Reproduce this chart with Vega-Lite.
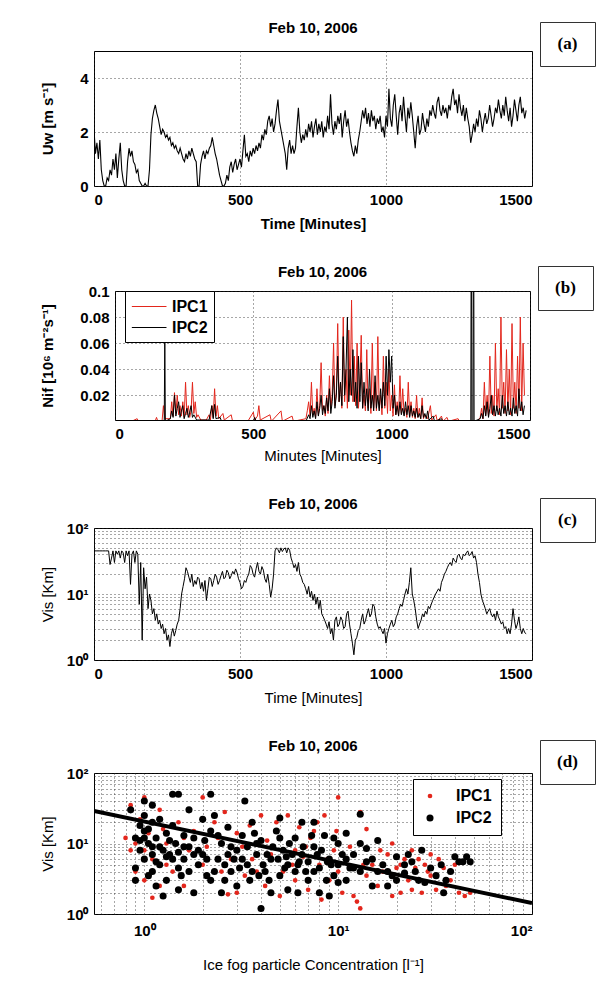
{
"$schema":"https://vega.github.io/schema/vega-lite/v6.json",
"background":"white",
"padding":{"left":32,"top":16,"right":15,"bottom":8},
"spacing":28,
"resolve":{"scale":{"color":"independent","size":"independent"},"legend":{"color":"independent","size":"independent"}},
"config":{
 "font":"Liberation Sans",
 "view":{"stroke":"black","strokeWidth":1},
 "axis":{"labelFont":"Liberation Sans","labelFontSize":15,"labelFontWeight":"bold","labelColor":"black","titleFont":"Liberation Sans","titleFontSize":15,"titleFontWeight":"bold","titleColor":"black","ticks":false,"domain":false,"grid":true,"gridColor":"#222","gridDash":[1,3],"gridWidth":0.8,"labelPadding":6,"labelOverlap":false},
 "legend":{"labelFont":"Liberation Sans","labelFontSize":16,"labelFontWeight":"bold","labelColor":"black","strokeColor":"black","fillColor":"white","padding":7,"title":null}
},
"datasets":{
"a":[{"t":0,"u":2.1},{"t":5,"u":1.2},{"t":10,"u":1.6},{"t":15,"u":1.0},{"t":20,"u":1.7},{"t":25,"u":0.6},{"t":30,"u":0.2},{"t":35,"u":0},{"t":40,"u":0},{"t":45,"u":0.3},{"t":50,"u":0.2},{"t":55,"u":0.6},{"t":60,"u":0.4},{"t":65,"u":1.0},{"t":70,"u":0.6},{"t":75,"u":1.2},{"t":80,"u":0.3},{"t":85,"u":1.0},{"t":90,"u":1.6},{"t":95,"u":0.6},{"t":100,"u":0.2},{"t":105,"u":0},{"t":110,"u":0},{"t":115,"u":0.9},{"t":120,"u":1.4},{"t":125,"u":1.1},{"t":130,"u":1.3},{"t":135,"u":0.9},{"t":140,"u":0.8},{"t":145,"u":0.5},{"t":150,"u":0.6},{"t":155,"u":0.2},{"t":160,"u":0.1},{"t":165,"u":0},{"t":170,"u":0},{"t":175,"u":0.1},{"t":180,"u":0},{"t":185,"u":0},{"t":190,"u":0.6},{"t":195,"u":1.9},{"t":200,"u":2.5},{"t":205,"u":2.8},{"t":210,"u":3.0},{"t":215,"u":2.7},{"t":220,"u":2.5},{"t":225,"u":2.2},{"t":230,"u":1.9},{"t":235,"u":2.1},{"t":240,"u":2.0},{"t":245,"u":1.8},{"t":250,"u":1.9},{"t":255,"u":1.7},{"t":260,"u":1.8},{"t":265,"u":1.5},{"t":270,"u":1.6},{"t":275,"u":1.4},{"t":280,"u":1.5},{"t":285,"u":1.3},{"t":290,"u":1.2},{"t":295,"u":1.4},{"t":300,"u":1.2},{"t":305,"u":1.0},{"t":310,"u":0.9},{"t":315,"u":1.2},{"t":320,"u":1.0},{"t":325,"u":1.3},{"t":330,"u":1.1},{"t":335,"u":1.4},{"t":340,"u":1.2},{"t":345,"u":1.0},{"t":350,"u":0.9},{"t":355,"u":0},{"t":360,"u":0},{"t":365,"u":0.8},{"t":370,"u":1.1},{"t":375,"u":1.3},{"t":380,"u":1.0},{"t":385,"u":1.3},{"t":390,"u":1.2},{"t":395,"u":1.4},{"t":400,"u":1.5},{"t":405,"u":1.8},{"t":410,"u":1.5},{"t":415,"u":1.2},{"t":420,"u":1.0},{"t":425,"u":0.7},{"t":430,"u":0.4},{"t":435,"u":0.2},{"t":440,"u":0},{"t":445,"u":0},{"t":450,"u":0.1},{"t":455,"u":0.4},{"t":460,"u":0.2},{"t":465,"u":0.7},{"t":470,"u":0.9},{"t":475,"u":0.5},{"t":480,"u":0.8},{"t":485,"u":1.0},{"t":490,"u":0.6},{"t":495,"u":0.8},{"t":500,"u":1.0},{"t":505,"u":0.7},{"t":510,"u":1.3},{"t":515,"u":1.9},{"t":520,"u":1.1},{"t":525,"u":1.2},{"t":530,"u":0.9},{"t":535,"u":1.3},{"t":540,"u":1.1},{"t":545,"u":1.4},{"t":550,"u":1.2},{"t":555,"u":1.5},{"t":560,"u":1.3},{"t":565,"u":1.6},{"t":570,"u":1.4},{"t":575,"u":1.9},{"t":580,"u":1.7},{"t":585,"u":2.1},{"t":590,"u":1.9},{"t":595,"u":2.4},{"t":600,"u":2.6},{"t":605,"u":2.2},{"t":610,"u":2.5},{"t":615,"u":2.0},{"t":620,"u":2.3},{"t":625,"u":2.8},{"t":630,"u":3.2},{"t":635,"u":2.4},{"t":640,"u":2.1},{"t":645,"u":1.8},{"t":650,"u":1.5},{"t":655,"u":1.2},{"t":660,"u":0.6},{"t":665,"u":1.4},{"t":670,"u":1.7},{"t":675,"u":1.2},{"t":680,"u":1.5},{"t":685,"u":1.2},{"t":690,"u":1.4},{"t":695,"u":2.2},{"t":700,"u":2.9},{"t":705,"u":2.0},{"t":710,"u":1.6},{"t":715,"u":1.9},{"t":720,"u":1.7},{"t":725,"u":2.1},{"t":730,"u":1.8},{"t":735,"u":2.3},{"t":740,"u":2.0},{"t":745,"u":2.4},{"t":750,"u":1.8},{"t":755,"u":2.2},{"t":760,"u":2.5},{"t":765,"u":1.9},{"t":770,"u":2.3},{"t":775,"u":2.0},{"t":780,"u":2.4},{"t":785,"u":1.8},{"t":790,"u":2.2},{"t":795,"u":2.0},{"t":800,"u":2.6},{"t":805,"u":2.1},{"t":810,"u":3.4},{"t":815,"u":2.3},{"t":820,"u":1.9},{"t":825,"u":2.4},{"t":830,"u":2.1},{"t":835,"u":2.6},{"t":840,"u":2.3},{"t":845,"u":2.7},{"t":850,"u":1.8},{"t":855,"u":2.4},{"t":860,"u":2.8},{"t":865,"u":2.2},{"t":870,"u":2.5},{"t":875,"u":2.0},{"t":880,"u":1.6},{"t":885,"u":1.3},{"t":890,"u":1.1},{"t":895,"u":1.5},{"t":900,"u":1.2},{"t":905,"u":1.7},{"t":910,"u":2.0},{"t":915,"u":2.4},{"t":920,"u":2.8},{"t":925,"u":2.5},{"t":930,"u":2.9},{"t":935,"u":2.3},{"t":940,"u":2.7},{"t":945,"u":2.2},{"t":950,"u":2.8},{"t":955,"u":2.4},{"t":960,"u":2.6},{"t":965,"u":2.1},{"t":970,"u":2.5},{"t":975,"u":2.3},{"t":980,"u":2.6},{"t":985,"u":2.0},{"t":990,"u":2.2},{"t":995,"u":1.8},{"t":1000,"u":2.6},{"t":1005,"u":2.2},{"t":1010,"u":3.6},{"t":1015,"u":2.5},{"t":1020,"u":2.2},{"t":1025,"u":3.0},{"t":1030,"u":3.4},{"t":1035,"u":2.6},{"t":1040,"u":1.9},{"t":1045,"u":2.7},{"t":1050,"u":3.0},{"t":1055,"u":2.4},{"t":1060,"u":3.3},{"t":1065,"u":2.6},{"t":1070,"u":2.0},{"t":1075,"u":2.9},{"t":1080,"u":2.5},{"t":1085,"u":3.1},{"t":1090,"u":2.6},{"t":1095,"u":2.0},{"t":1100,"u":1.4},{"t":1105,"u":2.2},{"t":1110,"u":2.6},{"t":1115,"u":1.9},{"t":1120,"u":2.1},{"t":1125,"u":2.7},{"t":1130,"u":2.3},{"t":1135,"u":2.0},{"t":1140,"u":2.5},{"t":1145,"u":2.2},{"t":1150,"u":2.8},{"t":1155,"u":2.6},{"t":1160,"u":3.0},{"t":1165,"u":2.7},{"t":1170,"u":2.5},{"t":1175,"u":3.1},{"t":1180,"u":3.3},{"t":1185,"u":2.8},{"t":1190,"u":2.6},{"t":1195,"u":3.0},{"t":1200,"u":2.7},{"t":1205,"u":2.9},{"t":1210,"u":2.5},{"t":1215,"u":3.0},{"t":1220,"u":2.8},{"t":1225,"u":3.3},{"t":1230,"u":3.6},{"t":1235,"u":3.0},{"t":1240,"u":3.2},{"t":1245,"u":2.7},{"t":1250,"u":3.4},{"t":1255,"u":2.9},{"t":1260,"u":2.6},{"t":1265,"u":3.0},{"t":1270,"u":2.4},{"t":1275,"u":2.9},{"t":1280,"u":2.5},{"t":1285,"u":2.2},{"t":1290,"u":1.6},{"t":1295,"u":1.9},{"t":1300,"u":2.3},{"t":1305,"u":2.0},{"t":1310,"u":2.5},{"t":1315,"u":2.2},{"t":1320,"u":2.8},{"t":1325,"u":2.5},{"t":1330,"u":2.0},{"t":1335,"u":2.4},{"t":1340,"u":2.7},{"t":1345,"u":2.3},{"t":1350,"u":2.5},{"t":1355,"u":3.0},{"t":1360,"u":2.6},{"t":1365,"u":2.2},{"t":1370,"u":2.5},{"t":1375,"u":2.9},{"t":1380,"u":2.7},{"t":1385,"u":3.2},{"t":1390,"u":2.8},{"t":1395,"u":2.5},{"t":1400,"u":3.0},{"t":1405,"u":2.6},{"t":1410,"u":3.3},{"t":1415,"u":2.8},{"t":1420,"u":2.4},{"t":1425,"u":2.9},{"t":1430,"u":2.2},{"t":1435,"u":2.6},{"t":1440,"u":3.2},{"t":1445,"u":2.8},{"t":1450,"u":2.4},{"t":1455,"u":3.0},{"t":1460,"u":3.3},{"t":1465,"u":2.7},{"t":1470,"u":2.9},{"t":1475,"u":2.5},{"t":1480,"u":2.8}],
"b":[{"s":"IPC1","t":0,"n":0},{"s":"IPC1","t":60,"n":0},{"s":"IPC1","t":80,"n":0.002},{"s":"IPC1","t":85,"n":0},{"s":"IPC1","t":145,"n":0},{"s":"IPC1","t":150,"n":0.003},{"s":"IPC1","t":155,"n":0},{"s":"IPC1","t":170,"n":0},{"s":"IPC1","t":175,"n":0.012},{"s":"IPC1","t":180,"n":0.002},{"s":"IPC1","t":200,"n":0.002},{"s":"IPC1","t":205,"n":0.015},{"s":"IPC1","t":210,"n":0.004},{"s":"IPC1","t":215,"n":0.022},{"s":"IPC1","t":220,"n":0.006},{"s":"IPC1","t":225,"n":0.02},{"s":"IPC1","t":230,"n":0.005},{"s":"IPC1","t":235,"n":0.012},{"s":"IPC1","t":240,"n":0.004},{"s":"IPC1","t":245,"n":0.015},{"s":"IPC1","t":250,"n":0.003},{"s":"IPC1","t":255,"n":0.03},{"s":"IPC1","t":260,"n":0.005},{"s":"IPC1","t":265,"n":0.012},{"s":"IPC1","t":270,"n":0.003},{"s":"IPC1","t":275,"n":0.008},{"s":"IPC1","t":280,"n":0.03},{"s":"IPC1","t":285,"n":0.006},{"s":"IPC1","t":290,"n":0.015},{"s":"IPC1","t":295,"n":0.003},{"s":"IPC1","t":300,"n":0.005},{"s":"IPC1","t":310,"n":0.001},{"s":"IPC1","t":330,"n":0.001},{"s":"IPC1","t":340,"n":0.005},{"s":"IPC1","t":345,"n":0.001},{"s":"IPC1","t":350,"n":0.012},{"s":"IPC1","t":355,"n":0.003},{"s":"IPC1","t":360,"n":0.025},{"s":"IPC1","t":365,"n":0.004},{"s":"IPC1","t":370,"n":0.012},{"s":"IPC1","t":375,"n":0.002},{"s":"IPC1","t":390,"n":0.006},{"s":"IPC1","t":395,"n":0.001},{"s":"IPC1","t":420,"n":0.005},{"s":"IPC1","t":425,"n":0},{"s":"IPC1","t":480,"n":0},{"s":"IPC1","t":500,"n":0.007},{"s":"IPC1","t":505,"n":0.001},{"s":"IPC1","t":515,"n":0.004},{"s":"IPC1","t":520,"n":0.012},{"s":"IPC1","t":525,"n":0.001},{"s":"IPC1","t":560,"n":0.005},{"s":"IPC1","t":565,"n":0},{"s":"IPC1","t":600,"n":0.008},{"s":"IPC1","t":605,"n":0},{"s":"IPC1","t":640,"n":0.004},{"s":"IPC1","t":645,"n":0},{"s":"IPC1","t":690,"n":0.002},{"s":"IPC1","t":695,"n":0.008},{"s":"IPC1","t":700,"n":0.015},{"s":"IPC1","t":705,"n":0.004},{"s":"IPC1","t":710,"n":0.03},{"s":"IPC1","t":715,"n":0.005},{"s":"IPC1","t":720,"n":0.01},{"s":"IPC1","t":725,"n":0.003},{"s":"IPC1","t":730,"n":0.025},{"s":"IPC1","t":735,"n":0.005},{"s":"IPC1","t":740,"n":0.012},{"s":"IPC1","t":745,"n":0.045},{"s":"IPC1","t":750,"n":0.008},{"s":"IPC1","t":755,"n":0.012},{"s":"IPC1","t":760,"n":0.004},{"s":"IPC1","t":765,"n":0.02},{"s":"IPC1","t":770,"n":0.006},{"s":"IPC1","t":775,"n":0.035},{"s":"IPC1","t":780,"n":0.01},{"s":"IPC1","t":785,"n":0.02},{"s":"IPC1","t":790,"n":0.06},{"s":"IPC1","t":795,"n":0.012},{"s":"IPC1","t":800,"n":0.022},{"s":"IPC1","t":805,"n":0.075},{"s":"IPC1","t":810,"n":0.015},{"s":"IPC1","t":815,"n":0.03},{"s":"IPC1","t":820,"n":0.01},{"s":"IPC1","t":825,"n":0.08},{"s":"IPC1","t":830,"n":0.015},{"s":"IPC1","t":835,"n":0.04},{"s":"IPC1","t":840,"n":0.01},{"s":"IPC1","t":845,"n":0.07},{"s":"IPC1","t":850,"n":0.02},{"s":"IPC1","t":855,"n":0.093},{"s":"IPC1","t":860,"n":0.015},{"s":"IPC1","t":865,"n":0.05},{"s":"IPC1","t":870,"n":0.012},{"s":"IPC1","t":875,"n":0.06},{"s":"IPC1","t":880,"n":0.01},{"s":"IPC1","t":885,"n":0.03},{"s":"IPC1","t":890,"n":0.066},{"s":"IPC1","t":895,"n":0.01},{"s":"IPC1","t":900,"n":0.02},{"s":"IPC1","t":905,"n":0.008},{"s":"IPC1","t":910,"n":0.055},{"s":"IPC1","t":915,"n":0.01},{"s":"IPC1","t":920,"n":0.025},{"s":"IPC1","t":925,"n":0.006},{"s":"IPC1","t":930,"n":0.06},{"s":"IPC1","t":935,"n":0.01},{"s":"IPC1","t":940,"n":0.03},{"s":"IPC1","t":945,"n":0.008},{"s":"IPC1","t":950,"n":0.065},{"s":"IPC1","t":955,"n":0.01},{"s":"IPC1","t":960,"n":0.02},{"s":"IPC1","t":965,"n":0.005},{"s":"IPC1","t":970,"n":0.05},{"s":"IPC1","t":975,"n":0.01},{"s":"IPC1","t":980,"n":0.03},{"s":"IPC1","t":985,"n":0.006},{"s":"IPC1","t":990,"n":0.04},{"s":"IPC1","t":995,"n":0.008},{"s":"IPC1","t":1000,"n":0.02},{"s":"IPC1","t":1005,"n":0.004},{"s":"IPC1","t":1010,"n":0.028},{"s":"IPC1","t":1015,"n":0.005},{"s":"IPC1","t":1020,"n":0.015},{"s":"IPC1","t":1025,"n":0.004},{"s":"IPC1","t":1030,"n":0.035},{"s":"IPC1","t":1035,"n":0.006},{"s":"IPC1","t":1040,"n":0.025},{"s":"IPC1","t":1045,"n":0.005},{"s":"IPC1","t":1050,"n":0.01},{"s":"IPC1","t":1055,"n":0.003},{"s":"IPC1","t":1060,"n":0.03},{"s":"IPC1","t":1065,"n":0.004},{"s":"IPC1","t":1070,"n":0.015},{"s":"IPC1","t":1075,"n":0.003},{"s":"IPC1","t":1080,"n":0.01},{"s":"IPC1","t":1085,"n":0.002},{"s":"IPC1","t":1090,"n":0.02},{"s":"IPC1","t":1095,"n":0.003},{"s":"IPC1","t":1100,"n":0.01},{"s":"IPC1","t":1105,"n":0.002},{"s":"IPC1","t":1110,"n":0.018},{"s":"IPC1","t":1115,"n":0.002},{"s":"IPC1","t":1120,"n":0.005},{"s":"IPC1","t":1130,"n":0.002},{"s":"IPC1","t":1140,"n":0.012},{"s":"IPC1","t":1145,"n":0.001},{"s":"IPC1","t":1160,"n":0.005},{"s":"IPC1","t":1165,"n":0},{"s":"IPC1","t":1180,"n":0.004},{"s":"IPC1","t":1185,"n":0},{"s":"IPC1","t":1200,"n":0.003},{"s":"IPC1","t":1205,"n":0},{"s":"IPC1","t":1240,"n":0.002},{"s":"IPC1","t":1245,"n":0},{"s":"IPC1","t":1310,"n":0},{"s":"IPC1","t":1320,"n":0.003},{"s":"IPC1","t":1325,"n":0.01},{"s":"IPC1","t":1330,"n":0.002},{"s":"IPC1","t":1335,"n":0.03},{"s":"IPC1","t":1340,"n":0.005},{"s":"IPC1","t":1345,"n":0.02},{"s":"IPC1","t":1350,"n":0.004},{"s":"IPC1","t":1355,"n":0.05},{"s":"IPC1","t":1360,"n":0.006},{"s":"IPC1","t":1365,"n":0.02},{"s":"IPC1","t":1370,"n":0.004},{"s":"IPC1","t":1375,"n":0.06},{"s":"IPC1","t":1380,"n":0.008},{"s":"IPC1","t":1385,"n":0.025},{"s":"IPC1","t":1390,"n":0.005},{"s":"IPC1","t":1395,"n":0.08},{"s":"IPC1","t":1400,"n":0.01},{"s":"IPC1","t":1405,"n":0.03},{"s":"IPC1","t":1410,"n":0.006},{"s":"IPC1","t":1415,"n":0.055},{"s":"IPC1","t":1420,"n":0.008},{"s":"IPC1","t":1425,"n":0.04},{"s":"IPC1","t":1430,"n":0.005},{"s":"IPC1","t":1435,"n":0.075},{"s":"IPC1","t":1440,"n":0.01},{"s":"IPC1","t":1445,"n":0.03},{"s":"IPC1","t":1450,"n":0.006},{"s":"IPC1","t":1455,"n":0.05},{"s":"IPC1","t":1460,"n":0.01},{"s":"IPC1","t":1465,"n":0.08},{"s":"IPC1","t":1470,"n":0.008},{"s":"IPC1","t":1475,"n":0.06},{"s":"IPC1","t":1480,"n":0.02},
{"s":"IPC2","t":0,"n":0},{"s":"IPC2","t":170,"n":0},{"s":"IPC2","t":178,"n":0},{"s":"IPC2","t":180,"n":0.065},{"s":"IPC2","t":182,"n":0},{"s":"IPC2","t":200,"n":0.002},{"s":"IPC2","t":205,"n":0.008},{"s":"IPC2","t":210,"n":0.003},{"s":"IPC2","t":215,"n":0.02},{"s":"IPC2","t":220,"n":0.004},{"s":"IPC2","t":225,"n":0.01},{"s":"IPC2","t":230,"n":0.015},{"s":"IPC2","t":235,"n":0.003},{"s":"IPC2","t":240,"n":0.008},{"s":"IPC2","t":245,"n":0.012},{"s":"IPC2","t":250,"n":0.002},{"s":"IPC2","t":255,"n":0.006},{"s":"IPC2","t":260,"n":0.01},{"s":"IPC2","t":265,"n":0.003},{"s":"IPC2","t":270,"n":0.007},{"s":"IPC2","t":275,"n":0.012},{"s":"IPC2","t":280,"n":0.003},{"s":"IPC2","t":285,"n":0.005},{"s":"IPC2","t":295,"n":0.001},{"s":"IPC2","t":340,"n":0.001},{"s":"IPC2","t":350,"n":0.012},{"s":"IPC2","t":355,"n":0.002},{"s":"IPC2","t":360,"n":0.013},{"s":"IPC2","t":365,"n":0.002},{"s":"IPC2","t":380,"n":0.003},{"s":"IPC2","t":385,"n":0},{"s":"IPC2","t":500,"n":0},{"s":"IPC2","t":505,"n":0.003},{"s":"IPC2","t":510,"n":0},{"s":"IPC2","t":690,"n":0},{"s":"IPC2","t":700,"n":0.005},{"s":"IPC2","t":705,"n":0.002},{"s":"IPC2","t":710,"n":0.012},{"s":"IPC2","t":715,"n":0.003},{"s":"IPC2","t":720,"n":0.008},{"s":"IPC2","t":725,"n":0.002},{"s":"IPC2","t":730,"n":0.015},{"s":"IPC2","t":735,"n":0.004},{"s":"IPC2","t":740,"n":0.01},{"s":"IPC2","t":745,"n":0.02},{"s":"IPC2","t":750,"n":0.005},{"s":"IPC2","t":755,"n":0.012},{"s":"IPC2","t":760,"n":0.006},{"s":"IPC2","t":765,"n":0.018},{"s":"IPC2","t":770,"n":0.008},{"s":"IPC2","t":775,"n":0.025},{"s":"IPC2","t":780,"n":0.006},{"s":"IPC2","t":785,"n":0.015},{"s":"IPC2","t":790,"n":0.035},{"s":"IPC2","t":795,"n":0.01},{"s":"IPC2","t":800,"n":0.02},{"s":"IPC2","t":805,"n":0.05},{"s":"IPC2","t":810,"n":0.015},{"s":"IPC2","t":815,"n":0.03},{"s":"IPC2","t":820,"n":0.012},{"s":"IPC2","t":825,"n":0.065},{"s":"IPC2","t":830,"n":0.02},{"s":"IPC2","t":835,"n":0.04},{"s":"IPC2","t":840,"n":0.08},{"s":"IPC2","t":845,"n":0.015},{"s":"IPC2","t":850,"n":0.04},{"s":"IPC2","t":855,"n":0.02},{"s":"IPC2","t":860,"n":0.055},{"s":"IPC2","t":865,"n":0.015},{"s":"IPC2","t":870,"n":0.03},{"s":"IPC2","t":875,"n":0.01},{"s":"IPC2","t":880,"n":0.05},{"s":"IPC2","t":885,"n":0.015},{"s":"IPC2","t":890,"n":0.045},{"s":"IPC2","t":895,"n":0.01},{"s":"IPC2","t":900,"n":0.03},{"s":"IPC2","t":905,"n":0.012},{"s":"IPC2","t":910,"n":0.025},{"s":"IPC2","t":915,"n":0.008},{"s":"IPC2","t":920,"n":0.04},{"s":"IPC2","t":925,"n":0.01},{"s":"IPC2","t":930,"n":0.02},{"s":"IPC2","t":935,"n":0.008},{"s":"IPC2","t":940,"n":0.035},{"s":"IPC2","t":945,"n":0.01},{"s":"IPC2","t":950,"n":0.02},{"s":"IPC2","t":955,"n":0.008},{"s":"IPC2","t":960,"n":0.025},{"s":"IPC2","t":965,"n":0.01},{"s":"IPC2","t":970,"n":0.03},{"s":"IPC2","t":975,"n":0.012},{"s":"IPC2","t":980,"n":0.05},{"s":"IPC2","t":985,"n":0.02},{"s":"IPC2","t":990,"n":0.055},{"s":"IPC2","t":995,"n":0.03},{"s":"IPC2","t":1000,"n":0.05},{"s":"IPC2","t":1005,"n":0.01},{"s":"IPC2","t":1010,"n":0.02},{"s":"IPC2","t":1015,"n":0.005},{"s":"IPC2","t":1020,"n":0.012},{"s":"IPC2","t":1025,"n":0.004},{"s":"IPC2","t":1030,"n":0.015},{"s":"IPC2","t":1035,"n":0.005},{"s":"IPC2","t":1040,"n":0.01},{"s":"IPC2","t":1045,"n":0.004},{"s":"IPC2","t":1050,"n":0.015},{"s":"IPC2","t":1055,"n":0.005},{"s":"IPC2","t":1060,"n":0.012},{"s":"IPC2","t":1065,"n":0.003},{"s":"IPC2","t":1070,"n":0.012},{"s":"IPC2","t":1075,"n":0.004},{"s":"IPC2","t":1080,"n":0.008},{"s":"IPC2","t":1085,"n":0.003},{"s":"IPC2","t":1090,"n":0.01},{"s":"IPC2","t":1095,"n":0.003},{"s":"IPC2","t":1100,"n":0.006},{"s":"IPC2","t":1105,"n":0.002},{"s":"IPC2","t":1110,"n":0.012},{"s":"IPC2","t":1115,"n":0.003},{"s":"IPC2","t":1120,"n":0.006},{"s":"IPC2","t":1125,"n":0.002},{"s":"IPC2","t":1130,"n":0.008},{"s":"IPC2","t":1135,"n":0.001},{"s":"IPC2","t":1150,"n":0.004},{"s":"IPC2","t":1155,"n":0},{"s":"IPC2","t":1180,"n":0.002},{"s":"IPC2","t":1185,"n":0},{"s":"IPC2","t":1286,"n":0},{"s":"IPC2","t":1288,"n":0.2},{"s":"IPC2","t":1290,"n":0},{"s":"IPC2","t":1294,"n":0},{"s":"IPC2","t":1296,"n":0.2},{"s":"IPC2","t":1298,"n":0},{"s":"IPC2","t":1320,"n":0.002},{"s":"IPC2","t":1325,"n":0.006},{"s":"IPC2","t":1330,"n":0.002},{"s":"IPC2","t":1335,"n":0.012},{"s":"IPC2","t":1340,"n":0.004},{"s":"IPC2","t":1345,"n":0.015},{"s":"IPC2","t":1350,"n":0.003},{"s":"IPC2","t":1355,"n":0.01},{"s":"IPC2","t":1360,"n":0.02},{"s":"IPC2","t":1365,"n":0.005},{"s":"IPC2","t":1370,"n":0.012},{"s":"IPC2","t":1375,"n":0.004},{"s":"IPC2","t":1380,"n":0.012},{"s":"IPC2","t":1385,"n":0.005},{"s":"IPC2","t":1390,"n":0.01},{"s":"IPC2","t":1395,"n":0.004},{"s":"IPC2","t":1400,"n":0.02},{"s":"IPC2","t":1405,"n":0.006},{"s":"IPC2","t":1410,"n":0.012},{"s":"IPC2","t":1415,"n":0.004},{"s":"IPC2","t":1420,"n":0.015},{"s":"IPC2","t":1425,"n":0.005},{"s":"IPC2","t":1430,"n":0.01},{"s":"IPC2","t":1435,"n":0.004},{"s":"IPC2","t":1440,"n":0.018},{"s":"IPC2","t":1445,"n":0.006},{"s":"IPC2","t":1450,"n":0.012},{"s":"IPC2","t":1455,"n":0.004},{"s":"IPC2","t":1460,"n":0.025},{"s":"IPC2","t":1465,"n":0.008},{"s":"IPC2","t":1470,"n":0.015},{"s":"IPC2","t":1475,"n":0.005},{"s":"IPC2","t":1480,"n":0.012}],
"c":[{"t":0,"v":45},{"t":10,"v":45},{"t":20,"v":45},{"t":30,"v":45},{"t":40,"v":45},{"t":50,"v":45},{"t":55,"v":28},{"t":60,"v":35},{"t":65,"v":45},{"t":70,"v":30},{"t":75,"v":45},{"t":80,"v":40},{"t":85,"v":45},{"t":90,"v":35},{"t":95,"v":45},{"t":100,"v":42},{"t":105,"v":30},{"t":110,"v":45},{"t":115,"v":38},{"t":120,"v":45},{"t":125,"v":14},{"t":130,"v":40},{"t":135,"v":45},{"t":140,"v":30},{"t":145,"v":45},{"t":150,"v":40},{"t":155,"v":7},{"t":160,"v":30},{"t":165,"v":2},{"t":170,"v":25},{"t":175,"v":12},{"t":180,"v":18},{"t":185,"v":6},{"t":190,"v":10},{"t":195,"v":8},{"t":200,"v":5},{"t":205,"v":6},{"t":210,"v":4},{"t":215,"v":5},{"t":220,"v":3.5},{"t":225,"v":4},{"t":230,"v":3},{"t":235,"v":3.5},{"t":240,"v":2.5},{"t":245,"v":3},{"t":250,"v":2},{"t":255,"v":2.4},{"t":260,"v":1.6},{"t":265,"v":2.5},{"t":270,"v":3},{"t":275,"v":2.3},{"t":280,"v":2.8},{"t":285,"v":3.5},{"t":290,"v":4},{"t":295,"v":6},{"t":300,"v":10},{"t":305,"v":13},{"t":310,"v":17},{"t":315,"v":25},{"t":320,"v":22},{"t":325,"v":18},{"t":330,"v":15},{"t":335,"v":20},{"t":340,"v":13},{"t":345,"v":16},{"t":350,"v":14},{"t":355,"v":18},{"t":360,"v":17},{"t":365,"v":12},{"t":370,"v":15},{"t":375,"v":11},{"t":380,"v":16},{"t":385,"v":8},{"t":390,"v":12},{"t":395,"v":18},{"t":400,"v":17},{"t":405,"v":13},{"t":410,"v":16},{"t":415,"v":20},{"t":420,"v":18},{"t":425,"v":14},{"t":430,"v":16},{"t":435,"v":19},{"t":440,"v":22},{"t":445,"v":17},{"t":450,"v":18},{"t":455,"v":23},{"t":460,"v":21},{"t":465,"v":17},{"t":470,"v":19},{"t":475,"v":22},{"t":480,"v":20},{"t":485,"v":24},{"t":490,"v":21},{"t":495,"v":17},{"t":500,"v":15},{"t":505,"v":12},{"t":510,"v":13},{"t":515,"v":16},{"t":520,"v":15},{"t":525,"v":18},{"t":530,"v":20},{"t":535,"v":27},{"t":540,"v":25},{"t":545,"v":20},{"t":550,"v":18},{"t":555,"v":24},{"t":560,"v":30},{"t":565,"v":22},{"t":570,"v":20},{"t":575,"v":26},{"t":580,"v":23},{"t":585,"v":17},{"t":590,"v":15},{"t":595,"v":20},{"t":600,"v":14},{"t":605,"v":9},{"t":610,"v":12},{"t":615,"v":20},{"t":620,"v":45},{"t":625,"v":50},{"t":630,"v":47},{"t":635,"v":42},{"t":640,"v":50},{"t":645,"v":44},{"t":650,"v":48},{"t":655,"v":50},{"t":660,"v":42},{"t":665,"v":50},{"t":670,"v":46},{"t":675,"v":35},{"t":680,"v":30},{"t":685,"v":25},{"t":690,"v":28},{"t":695,"v":22},{"t":700,"v":30},{"t":705,"v":20},{"t":710,"v":18},{"t":715,"v":15},{"t":720,"v":14},{"t":725,"v":12},{"t":730,"v":10},{"t":735,"v":13},{"t":740,"v":9},{"t":745,"v":11},{"t":750,"v":8},{"t":755,"v":10},{"t":760,"v":7},{"t":765,"v":9},{"t":770,"v":6},{"t":775,"v":8},{"t":780,"v":5},{"t":785,"v":4.5},{"t":790,"v":4},{"t":795,"v":3.5},{"t":800,"v":3},{"t":805,"v":3.8},{"t":810,"v":2.5},{"t":815,"v":3},{"t":820,"v":2},{"t":825,"v":4},{"t":830,"v":4.5},{"t":835,"v":3.2},{"t":840,"v":3.5},{"t":845,"v":4.5},{"t":850,"v":4},{"t":855,"v":3},{"t":860,"v":3.2},{"t":865,"v":5},{"t":870,"v":5.5},{"t":875,"v":3.5},{"t":880,"v":2.5},{"t":885,"v":1.8},{"t":890,"v":1.2},{"t":895,"v":2},{"t":900,"v":2.2},{"t":905,"v":2.8},{"t":910,"v":3},{"t":915,"v":4},{"t":920,"v":5},{"t":925,"v":3.5},{"t":930,"v":4},{"t":935,"v":5},{"t":940,"v":6},{"t":945,"v":4.5},{"t":950,"v":5},{"t":955,"v":7},{"t":960,"v":6.5},{"t":965,"v":4.5},{"t":970,"v":3.5},{"t":975,"v":3},{"t":980,"v":3.2},{"t":985,"v":2.8},{"t":990,"v":2.5},{"t":995,"v":3},{"t":1000,"v":1.8},{"t":1005,"v":2.5},{"t":1010,"v":3},{"t":1015,"v":3.5},{"t":1020,"v":4},{"t":1025,"v":3.2},{"t":1030,"v":3.5},{"t":1035,"v":4.5},{"t":1040,"v":5},{"t":1045,"v":6},{"t":1050,"v":7},{"t":1055,"v":6.5},{"t":1060,"v":8},{"t":1065,"v":10},{"t":1070,"v":12},{"t":1075,"v":10},{"t":1080,"v":15},{"t":1085,"v":25},{"t":1090,"v":10},{"t":1095,"v":8},{"t":1100,"v":6},{"t":1105,"v":4},{"t":1110,"v":3},{"t":1115,"v":3.5},{"t":1120,"v":4},{"t":1125,"v":5},{"t":1130,"v":4.5},{"t":1135,"v":5.5},{"t":1140,"v":5},{"t":1145,"v":6.5},{"t":1150,"v":6},{"t":1155,"v":7},{"t":1160,"v":8},{"t":1165,"v":9},{"t":1170,"v":10},{"t":1175,"v":11},{"t":1180,"v":12},{"t":1185,"v":11},{"t":1190,"v":15},{"t":1195,"v":17},{"t":1200,"v":20},{"t":1205,"v":22},{"t":1210,"v":25},{"t":1215,"v":28},{"t":1220,"v":30},{"t":1225,"v":27},{"t":1230,"v":35},{"t":1235,"v":32},{"t":1240,"v":30},{"t":1245,"v":38},{"t":1250,"v":40},{"t":1255,"v":35},{"t":1260,"v":33},{"t":1265,"v":40},{"t":1270,"v":38},{"t":1275,"v":42},{"t":1280,"v":45},{"t":1285,"v":38},{"t":1290,"v":40},{"t":1295,"v":44},{"t":1300,"v":35},{"t":1305,"v":38},{"t":1310,"v":30},{"t":1315,"v":20},{"t":1320,"v":15},{"t":1325,"v":10},{"t":1330,"v":8},{"t":1335,"v":7},{"t":1340,"v":6},{"t":1345,"v":5},{"t":1350,"v":5.5},{"t":1355,"v":6},{"t":1360,"v":5},{"t":1365,"v":4.5},{"t":1370,"v":5},{"t":1375,"v":4},{"t":1380,"v":5.5},{"t":1385,"v":4.5},{"t":1390,"v":4},{"t":1395,"v":3.5},{"t":1400,"v":3.8},{"t":1405,"v":3},{"t":1410,"v":3.2},{"t":1415,"v":2.5},{"t":1420,"v":3},{"t":1425,"v":2.5},{"t":1430,"v":3.5},{"t":1435,"v":6},{"t":1440,"v":4},{"t":1445,"v":3},{"t":1450,"v":3.5},{"t":1455,"v":4.5},{"t":1460,"v":3},{"t":1465,"v":2.5},{"t":1470,"v":3},{"t":1475,"v":2.6},{"t":1480,"v":2.5}],
"d":[{"s":"IPC1","c":0.8,"v":12},{"s":"IPC1","c":0.85,"v":35},{"s":"IPC1","c":0.85,"v":8},{"s":"IPC1","c":0.9,"v":4},{"s":"IPC1","c":0.95,"v":22},{"s":"IPC1","c":1.0,"v":45},{"s":"IPC1","c":1.0,"v":3},{"s":"IPC1","c":1.05,"v":14},{"s":"IPC1","c":1.1,"v":6},{"s":"IPC1","c":1.2,"v":30},{"s":"IPC1","c":1.2,"v":2.5},{"s":"IPC1","c":1.3,"v":10},{"s":"IPC1","c":1.4,"v":4},{"s":"IPC1","c":1.5,"v":20},{"s":"IPC1","c":1.6,"v":2.5},{"s":"IPC1","c":1.7,"v":8},{"s":"IPC1","c":1.8,"v":15},{"s":"IPC1","c":2.0,"v":45},{"s":"IPC1","c":2.0,"v":5},{"s":"IPC1","c":2.2,"v":3},{"s":"IPC1","c":2.4,"v":12},{"s":"IPC1","c":2.6,"v":28},{"s":"IPC1","c":2.8,"v":6},{"s":"IPC1","c":3.0,"v":2},{"s":"IPC1","c":3.2,"v":9},{"s":"IPC1","c":3.5,"v":18},{"s":"IPC1","c":3.8,"v":4},{"s":"IPC1","c":4.0,"v":25},{"s":"IPC1","c":4.2,"v":2.5},{"s":"IPC1","c":4.5,"v":7},{"s":"IPC1","c":5.0,"v":12},{"s":"IPC1","c":5.0,"v":1.8},{"s":"IPC1","c":5.5,"v":25},{"s":"IPC1","c":5.8,"v":5},{"s":"IPC1","c":6.0,"v":3},{"s":"IPC1","c":6.3,"v":17},{"s":"IPC1","c":6.8,"v":9},{"s":"IPC1","c":7.0,"v":2.2},{"s":"IPC1","c":7.5,"v":15},{"s":"IPC1","c":8.0,"v":5},{"s":"IPC1","c":8.5,"v":25},{"s":"IPC1","c":9.0,"v":3},{"s":"IPC1","c":9.5,"v":8},{"s":"IPC1","c":10,"v":45},{"s":"IPC1","c":10,"v":4},{"s":"IPC1","c":10.5,"v":2},{"s":"IPC1","c":11,"v":6},{"s":"IPC1","c":12,"v":1.8},{"s":"IPC1","c":12.5,"v":1.5},{"s":"IPC1","c":13,"v":1.2},{"s":"IPC1","c":13,"v":28},{"s":"IPC1","c":14,"v":16},{"s":"IPC1","c":14,"v":3.5},{"s":"IPC1","c":15,"v":5},{"s":"IPC1","c":16,"v":2.5},{"s":"IPC1","c":17,"v":4},{"s":"IPC1","c":18,"v":7},{"s":"IPC1","c":19,"v":10},{"s":"IPC1","c":20,"v":4.5},{"s":"IPC1","c":21,"v":2},{"s":"IPC1","c":22,"v":6},{"s":"IPC1","c":24,"v":8},{"s":"IPC1","c":25,"v":4.5},{"s":"IPC1","c":26,"v":6},{"s":"IPC1","c":27,"v":2},{"s":"IPC1","c":28,"v":5},{"s":"IPC1","c":30,"v":3.5},{"s":"IPC1","c":32,"v":2.2},{"s":"IPC1","c":35,"v":4.5},{"s":"IPC1","c":38,"v":3},{"s":"IPC1","c":40,"v":5},{"s":"IPC1","c":42,"v":2},{"s":"IPC1","c":45,"v":1.8},{"s":"IPC1","c":48,"v":2},{"s":"IPC1","c":30,"v":7},{"s":"IPC1","c":24,"v":2.2},{"s":"IPC1","c":19,"v":1.8},{"s":"IPC1","c":8.2,"v":1.6},{"s":"IPC1","c":6.6,"v":6.5},{"s":"IPC1","c":3.3,"v":3.5},{"s":"IPC1","c":2.7,"v":1.9},{"s":"IPC1","c":1.25,"v":16},{"s":"IPC1","c":1.1,"v":1.7},{"s":"IPC1","c":0.9,"v":10},{"s":"IPC1","c":1.0,"v":8},{"s":"IPC1","c":1.3,"v":5},{"s":"IPC1","c":1.6,"v":12},{"s":"IPC1","c":2.1,"v":9},{"s":"IPC1","c":2.5,"v":4},{"s":"IPC1","c":3.0,"v":14},{"s":"IPC1","c":3.6,"v":6},{"s":"IPC1","c":4.3,"v":11},{"s":"IPC1","c":5.2,"v":4},{"s":"IPC1","c":6.0,"v":8},{"s":"IPC1","c":7.2,"v":12},{"s":"IPC1","c":8.8,"v":6},{"s":"IPC1","c":11.5,"v":9},{"s":"IPC1","c":13.5,"v":5},{"s":"IPC1","c":16.5,"v":8},{"s":"IPC1","c":21,"v":5},{"s":"IPC1","c":23,"v":3},{"s":"IPC1","c":29,"v":4},{"s":"IPC1","c":33,"v":6},{"s":"IPC1","c":36,"v":2.5},{"s":"IPC1","c":9.8,"v":15},{"s":"IPC1","c":7.8,"v":20},{"s":"IPC1","c":4.8,"v":20},{"s":"IPC1","c":2.3,"v":20},
{"s":"IPC2","c":0.85,"v":30},{"s":"IPC2","c":0.9,"v":12},{"s":"IPC2","c":0.9,"v":4.5},{"s":"IPC2","c":0.9,"v":3},{"s":"IPC2","c":0.95,"v":8},{"s":"IPC2","c":0.95,"v":18},{"s":"IPC2","c":1.0,"v":40},{"s":"IPC2","c":1.0,"v":25},{"s":"IPC2","c":1.0,"v":15},{"s":"IPC2","c":1.0,"v":6},{"s":"IPC2","c":1.05,"v":10},{"s":"IPC2","c":1.05,"v":3.5},{"s":"IPC2","c":1.1,"v":35},{"s":"IPC2","c":1.1,"v":20},{"s":"IPC2","c":1.1,"v":7},{"s":"IPC2","c":1.1,"v":4},{"s":"IPC2","c":1.15,"v":12},{"s":"IPC2","c":1.15,"v":2.5},{"s":"IPC2","c":1.2,"v":9},{"s":"IPC2","c":1.2,"v":5},{"s":"IPC2","c":1.25,"v":1.8},{"s":"IPC2","c":1.3,"v":14},{"s":"IPC2","c":1.3,"v":3},{"s":"IPC2","c":1.35,"v":7},{"s":"IPC2","c":1.4,"v":50},{"s":"IPC2","c":1.4,"v":18},{"s":"IPC2","c":1.45,"v":10},{"s":"IPC2","c":1.5,"v":50},{"s":"IPC2","c":1.5,"v":4.5},{"s":"IPC2","c":1.5,"v":2.2},{"s":"IPC2","c":1.6,"v":13},{"s":"IPC2","c":1.6,"v":6},{"s":"IPC2","c":1.7,"v":30},{"s":"IPC2","c":1.7,"v":9},{"s":"IPC2","c":1.8,"v":2},{"s":"IPC2","c":1.8,"v":12},{"s":"IPC2","c":1.9,"v":5},{"s":"IPC2","c":2.0,"v":22},{"s":"IPC2","c":2.0,"v":7},{"s":"IPC2","c":2.1,"v":3.5},{"s":"IPC2","c":2.2,"v":50},{"s":"IPC2","c":2.2,"v":15},{"s":"IPC2","c":2.3,"v":25},{"s":"IPC2","c":2.4,"v":6},{"s":"IPC2","c":2.5,"v":2},{"s":"IPC2","c":2.5,"v":10},{"s":"IPC2","c":2.7,"v":17},{"s":"IPC2","c":2.8,"v":4},{"s":"IPC2","c":3.0,"v":8},{"s":"IPC2","c":3.0,"v":2.5},{"s":"IPC2","c":3.2,"v":13},{"s":"IPC2","c":3.3,"v":40},{"s":"IPC2","c":3.4,"v":5},{"s":"IPC2","c":3.5,"v":3},{"s":"IPC2","c":3.6,"v":20},{"s":"IPC2","c":3.8,"v":7},{"s":"IPC2","c":4.0,"v":1.2},{"s":"IPC2","c":4.0,"v":11},{"s":"IPC2","c":4.2,"v":4},{"s":"IPC2","c":4.5,"v":2},{"s":"IPC2","c":4.5,"v":6},{"s":"IPC2","c":4.8,"v":15},{"s":"IPC2","c":5.0,"v":23},{"s":"IPC2","c":5.0,"v":3.5},{"s":"IPC2","c":5.2,"v":8},{"s":"IPC2","c":5.5,"v":5},{"s":"IPC2","c":5.5,"v":2.2},{"s":"IPC2","c":6.0,"v":12},{"s":"IPC2","c":6.0,"v":4},{"s":"IPC2","c":6.5,"v":7},{"s":"IPC2","c":6.5,"v":20},{"s":"IPC2","c":7.0,"v":3},{"s":"IPC2","c":7.0,"v":5.5},{"s":"IPC2","c":7.5,"v":9},{"s":"IPC2","c":7.5,"v":20},{"s":"IPC2","c":8.0,"v":2},{"s":"IPC2","c":8.0,"v":4.5},{"s":"IPC2","c":8.5,"v":13},{"s":"IPC2","c":9.0,"v":6},{"s":"IPC2","c":9.0,"v":1.8},{"s":"IPC2","c":9.5,"v":3.5},{"s":"IPC2","c":10,"v":10},{"s":"IPC2","c":10,"v":5},{"s":"IPC2","c":11,"v":14},{"s":"IPC2","c":11,"v":3},{"s":"IPC2","c":12,"v":7},{"s":"IPC2","c":13,"v":26},{"s":"IPC2","c":13,"v":4},{"s":"IPC2","c":14,"v":5.5},{"s":"IPC2","c":15,"v":2.5},{"s":"IPC2","c":16,"v":11},{"s":"IPC2","c":18,"v":4},{"s":"IPC2","c":20,"v":6.5},{"s":"IPC2","c":20,"v":3},{"s":"IPC2","c":22,"v":5},{"s":"IPC2","c":25,"v":4},{"s":"IPC2","c":28,"v":2.8},{"s":"IPC2","c":30,"v":4.5},{"s":"IPC2","c":32,"v":3.5},{"s":"IPC2","c":35,"v":2},{"s":"IPC2","c":38,"v":4},{"s":"IPC2","c":40,"v":6.5},{"s":"IPC2","c":42,"v":5.5},{"s":"IPC2","c":44,"v":5.5},{"s":"IPC2","c":27,"v":8},{"s":"IPC2","c":23,"v":7},{"s":"IPC2","c":18,"v":2.5},{"s":"IPC2","c":14,"v":8.5},{"s":"IPC2","c":6.2,"v":2},{"s":"IPC2","c":4.6,"v":9},{"s":"IPC2","c":3.7,"v":14},{"s":"IPC2","c":2.6,"v":5},{"s":"IPC2","c":1.7,"v":4},{"s":"IPC2","c":1.25,"v":8},{"s":"IPC2","c":1.4,"v":6},{"s":"IPC2","c":1.9,"v":8},{"s":"IPC2","c":2.3,"v":4},{"s":"IPC2","c":2.9,"v":6},{"s":"IPC2","c":3.4,"v":9},{"s":"IPC2","c":4.1,"v":5},{"s":"IPC2","c":4.9,"v":6},{"s":"IPC2","c":5.6,"v":10},{"s":"IPC2","c":6.8,"v":4},{"s":"IPC2","c":7.8,"v":7},{"s":"IPC2","c":9.2,"v":5},{"s":"IPC2","c":1.15,"v":5.5},{"s":"IPC2","c":1.55,"v":3.5},{"s":"IPC2","c":2.05,"v":11},{"s":"IPC2","c":2.6,"v":3},{"s":"IPC2","c":3.1,"v":4.5},{"s":"IPC2","c":3.9,"v":3.5},{"s":"IPC2","c":5.3,"v":4.5},{"s":"IPC2","c":6.3,"v":5.5},{"s":"IPC2","c":8.7,"v":3},{"s":"IPC2","c":11.5,"v":4.5},{"s":"IPC2","c":0.95,"v":11},{"s":"IPC2","c":1.05,"v":16},{"s":"IPC2","c":1.2,"v":22},{"s":"IPC2","c":1.35,"v":11},{"s":"IPC2","c":1.6,"v":9},{"s":"IPC2","c":1.8,"v":7},{"s":"IPC2","c":2.1,"v":6},{"s":"IPC2","c":2.4,"v":13},{"s":"IPC2","c":2.8,"v":9},{"s":"IPC2","c":3.2,"v":6},{"s":"IPC2","c":3.6,"v":4},{"s":"IPC2","c":4.3,"v":7},{"s":"IPC2","c":5.0,"v":12},{"s":"IPC2","c":5.8,"v":7},{"s":"IPC2","c":6.6,"v":9},{"s":"IPC2","c":7.3,"v":13},{"s":"IPC2","c":8.2,"v":8},{"s":"IPC2","c":9.5,"v":12},{"s":"IPC2","c":10.5,"v":7},{"s":"IPC2","c":12,"v":4.5},{"s":"IPC2","c":13,"v":10},{"s":"IPC2","c":15,"v":6},{"s":"IPC2","c":17,"v":5},{"s":"IPC2","c":19,"v":3.5},{"s":"IPC2","c":24,"v":5.5},{"s":"IPC2","c":26,"v":3},{"s":"IPC2","c":34,"v":5},{"s":"IPC2","c":36,"v":3},{"s":"IPC2","c":48,"v":5.5},{"s":"IPC2","c":46,"v":6.5},{"s":"IPC2","c":1.0,"v":12},{"s":"IPC2","c":1.1,"v":9},{"s":"IPC2","c":1.3,"v":6.5},{"s":"IPC2","c":2.7,"v":7},{"s":"IPC2","c":3.8,"v":10},{"s":"IPC2","c":5.4,"v":6.5},{"s":"IPC2","c":6.2,"v":5},{"s":"IPC2","c":7.5,"v":4},{"s":"IPC2","c":8.8,"v":5.5},{"s":"IPC2","c":11,"v":6},{"s":"IPC2","c":2.2,"v":3},{"s":"IPC2","c":1.5,"v":7.5},{"s":"IPC2","c":4.4,"v":3},{"s":"IPC2","c":16,"v":4},{"s":"IPC2","c":10,"v":2.8},{"s":"IPC2","c":22,"v":3.8}],
"fit":[{"c":0.55,"v":29},{"c":100,"v":1.43}]
},
"vconcat":[
{"hconcat":[
 {"width":1,"height":1,"view":{"stroke":null},"data":{"values":[{"lab":""}]},"mark":{"type":"text"},"encoding":{"text":{"field":"lab"}}},
 {"vconcat":[
  {"width":438,"height":12,"view":{"stroke":null},"data":{"values":[{"lab":"Feb 10, 2006"}]},"mark":{"type":"text","font":"Liberation Sans","fontSize":15,"fontWeight":"bold","color":"black"},"encoding":{"text":{"field":"lab"}}},
  {"width":438,"height":135,
   "data":{"name":"a"},
   "mark":{"type":"line","color":"black","strokeWidth":1.1,"clip":true},
   "encoding":{
    "x":{"field":"t","type":"quantitative","scale":{"domain":[0,1500],"nice":false},"axis":{"values":[0,500,1000,1500],"format":"d","title":"Time [Minutes]","titleY":30}},
    "y":{"field":"u","type":"quantitative","scale":{"domain":[0,5],"nice":false},"axis":{"values":[0,2,4],"title":"Uw [m s⁻¹]","titleX":-39}}
   }}
 ],"spacing":14},
 {"width":55,"height":44,"view":{"stroke":"#333"},"data":{"values":[{"lab":"(a)"}]},"mark":{"type":"text","font":"Liberation Serif","fontWeight":"bold","fontSize":17,"color":"black"},"encoding":{"text":{"field":"lab"}}}
],"spacing":6},
{"hconcat":[
 {"width":1,"height":1,"view":{"stroke":null},"data":{"values":[{"lab":""}]},"mark":{"type":"text"},"encoding":{"text":{"field":"lab"}}},
 {"vconcat":[
  {"width":415,"height":12,"view":{"stroke":null},"data":{"values":[{"lab":"Feb 10, 2006"}]},"mark":{"type":"text","font":"Liberation Sans","fontSize":15,"fontWeight":"bold","color":"black"},"encoding":{"text":{"field":"lab"}}},
  {"width":415,"height":129,
   "data":{"name":"b"},
   "mark":{"type":"line","strokeWidth":1,"clip":true},
   "encoding":{
    "x":{"field":"t","type":"quantitative","scale":{"domain":[0,1500],"nice":false},"axis":{"values":[0,500,1000,1500],"format":"d","title":"Minutes [Minutes]","titleFontWeight":"normal","titleY":28}},
    "y":{"field":"n","type":"quantitative","scale":{"domain":[0.001,0.1],"nice":false,"zero":false},"axis":{"values":[0.02,0.04,0.06,0.08,0.1],"format":".2~f","title":"Nif [10⁶ m⁻²s⁻¹]","titleX":-60}},
    "color":{"field":"s","type":"nominal","scale":{"domain":["IPC1","IPC2"],"range":["#e3261c","#000000"]},"legend":{"orient":"none","legendX":10,"legendY":0,"symbolType":"M-1,0H3","symbolSize":300,"symbolStrokeWidth":1.2,"labelOffset":22,"rowPadding":3,"padding":6}}
   }}
 ],"spacing":3,"resolve":{"scale":{"color":"independent"},"legend":{"color":"independent"}}},
 {"width":55,"height":44,"view":{"stroke":"#333"},"data":{"values":[{"lab":"(b)"}]},"mark":{"type":"text","font":"Liberation Serif","fontWeight":"bold","fontSize":17,"color":"black"},"encoding":{"text":{"field":"lab"}}}
],"spacing":6,"resolve":{"scale":{"color":"independent"},"legend":{"color":"independent"}}},
{"hconcat":[
 {"width":1,"height":1,"view":{"stroke":null},"data":{"values":[{"lab":""}]},"mark":{"type":"text"},"encoding":{"text":{"field":"lab"}}},
 {"vconcat":[
  {"width":438,"height":12,"view":{"stroke":null},"data":{"values":[{"lab":"Feb 10, 2006"}]},"mark":{"type":"text","font":"Liberation Sans","fontSize":15,"fontWeight":"bold","color":"black"},"encoding":{"text":{"field":"lab"}}},
  {"width":438,"height":132,
   "data":{"name":"c"},
   "mark":{"type":"line","color":"black","strokeWidth":1,"clip":true},
   "encoding":{
    "x":{"field":"t","type":"quantitative","scale":{"domain":[0,1500],"nice":false},"axis":{"values":[0,500,1000,1500],"format":"d","title":"Time [Minutes]","titleFontWeight":"normal","titleY":30}},
    "y":{"field":"v","type":"quantitative","scale":{"type":"log","domain":[1,100],"nice":false},"axis":{"values":[1,2,3,4,5,6,7,8,9,10,20,30,40,50,60,70,80,90,100],"labelExpr":"datum.value==1?'10⁰':datum.value==10?'10¹':datum.value==100?'10²':''","title":"Vis [Km]","titleFontWeight":"normal","titleX":-39}}
   }}
 ],"spacing":8},
 {"width":55,"height":44,"view":{"stroke":"#333"},"data":{"values":[{"lab":"(c)"}]},"mark":{"type":"text","font":"Liberation Serif","fontWeight":"bold","fontSize":17,"color":"black"},"encoding":{"text":{"field":"lab"}}}
],"spacing":6},
{"hconcat":[
 {"width":1,"height":1,"view":{"stroke":null},"data":{"values":[{"lab":""}]},"mark":{"type":"text"},"encoding":{"text":{"field":"lab"}}},
 {"vconcat":[
  {"width":438,"height":12,"view":{"stroke":null},"data":{"values":[{"lab":"Feb 10, 2006"}]},"mark":{"type":"text","font":"Liberation Sans","fontSize":15,"fontWeight":"bold","color":"black"},"encoding":{"text":{"field":"lab"}}},
  {"width":438,"height":141,
   "layer":[
    {"data":{"name":"d"},
     "mark":{"type":"circle","opacity":1},
     "encoding":{
      "x":{"field":"c","type":"quantitative","scale":{"type":"log","domain":[0.55,100],"nice":false},"axis":{"values":[0.6,0.7,0.8,0.9,1,2,3,4,5,6,7,8,9,10,20,30,40,50,60,70,80,90,100],"labelExpr":"datum.value==1?'10⁰':datum.value==10?'10¹':datum.value==100?'10²':''","labelPadding":9,"title":"Ice fog particle Concentration [l⁻¹]","titleFontWeight":"normal","titleY":43}},
      "y":{"field":"v","type":"quantitative","scale":{"type":"log","domain":[1,100],"nice":false},"axis":{"values":[1,2,3,4,5,6,7,8,9,10,20,30,40,50,60,70,80,90,100],"labelExpr":"datum.value==1?'10⁰':datum.value==10?'10¹':datum.value==100?'10²':''","title":"Vis [Km]","titleFontWeight":"normal","titleX":-39}},
      "color":{"field":"s","type":"nominal","scale":{"domain":["IPC1","IPC2"],"range":["#e3261c","#000000"]},"legend":{"orient":"none","legendX":319,"legendY":6,"symbolType":"circle","rowPadding":6,"padding":9,"labelOffset":18}},
      "size":{"field":"s","type":"nominal","scale":{"domain":["IPC1","IPC2"],"range":[22,50]}}
     }},
    {"data":{"name":"fit"},
     "mark":{"type":"line","color":"black","strokeWidth":4,"clip":true},
     "encoding":{"x":{"field":"c","type":"quantitative"},"y":{"field":"v","type":"quantitative"}}}
   ]}
 ],"spacing":11,"resolve":{"scale":{"color":"independent","size":"independent"},"legend":{"color":"independent","size":"independent"}}},
 {"width":55,"height":44,"view":{"stroke":"#333"},"data":{"values":[{"lab":"(d)"}]},"mark":{"type":"text","font":"Liberation Serif","fontWeight":"bold","fontSize":17,"color":"black"},"encoding":{"text":{"field":"lab"}}}
],"spacing":6,"resolve":{"scale":{"color":"independent","size":"independent"},"legend":{"color":"independent","size":"independent"}}}
]
}
